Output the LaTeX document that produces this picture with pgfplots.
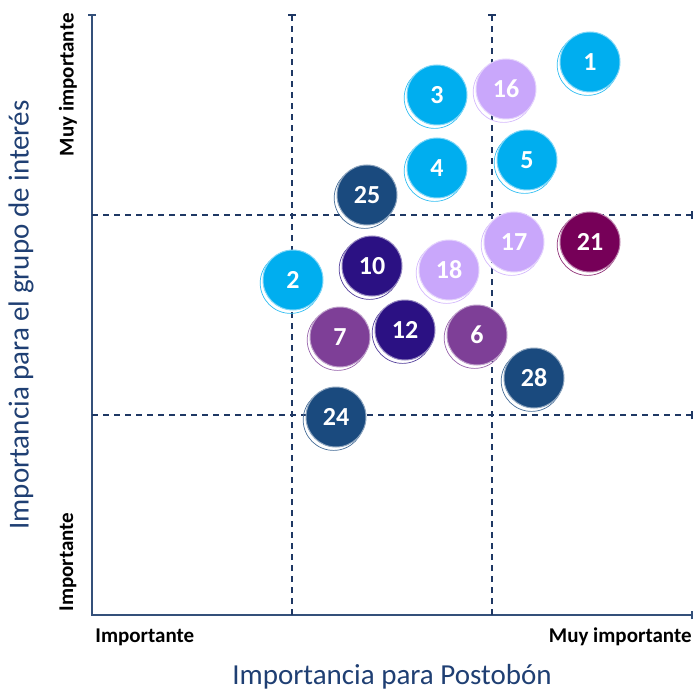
\documentclass[border=0pt]{standalone}
\usepackage{fontspec}
\setmainfont{Carlito}
\usepackage{pgfplots}
\pgfplotsset{compat=1.18}
\definecolor{lblue}{HTML}{00AEEF}
\definecolor{lav}{HTML}{C9A7FB}
\definecolor{dblue}{HTML}{1A4A7E}
\definecolor{indig}{HTML}{2B1183}
\definecolor{purp}{HTML}{7E3F97}
\definecolor{magen}{HTML}{760058}
\definecolor{dashcol}{HTML}{1F3864}
\definecolor{axcol}{HTML}{34507A}
\definecolor{titlecol}{HTML}{1F3F73}
\newcommand{\bub}[2]{%
\addplot[only marks, mark=o, mark size=15.2pt, draw=#1!80!white, line width=0.35pt, point meta=explicit symbolic,
  mark options={xshift=-1.2pt,yshift=-1.5pt}] coordinates {#2};
\addplot[only marks, mark=*, mark size=15pt, fill=#1, draw=#1!50!white, line width=0.5pt,
  point meta=explicit symbolic, nodes near coords, nodes near coords align=center,
  every node near coord/.style={font=\bfseries\fontsize{13}{13}\selectfont, text=white, anchor=center}] coordinates {#2};
}
\tikzset{dl/.style={dashcol, line width=0.7pt, dash pattern=on 3pt off 2.5pt}, dt/.style={dashcol, line width=0.7pt}}
\begin{document}
\begin{tikzpicture}
\useasboundingbox (-46pt,-38pt) rectangle (301.5pt,307.5pt);
\begin{axis}[
  scale only axis, width=300pt, height=300pt,
  xmin=0, xmax=3, ymin=0, ymax=3,
  hide axis, clip=false,
]
% axis lines
\draw[axcol, line width=0.75pt] (axis cs:0,3) -- (axis cs:0,0) -- (axis cs:3,0);
\draw[axcol, line width=0.75pt] ([xshift=-2pt]axis cs:0,3) -- ([xshift=2pt]axis cs:0,3);
\draw[axcol, line width=0.75pt] ([yshift=-2pt]axis cs:3,0) -- ([yshift=2pt]axis cs:3,0);
% dashed quadrant lines
\draw[dl] (axis cs:1,0) -- (axis cs:1,3);
\draw[dl] (axis cs:2,0) -- (axis cs:2,3);
\draw[dt] ([xshift=-2pt]axis cs:1,3) -- ([xshift=2pt]axis cs:1,3);
\draw[dt] ([xshift=-2pt]axis cs:2,3) -- ([xshift=2pt]axis cs:2,3);
\draw[dl] (axis cs:0,1) -- (axis cs:3,1);
\draw[dl] (axis cs:0,2) -- (axis cs:3,2);
\draw[dt] ([yshift=-2pt]axis cs:3,1) -- ([yshift=2pt]axis cs:3,1);
\draw[dt] ([yshift=-2pt]axis cs:3,2) -- ([yshift=2pt]axis cs:3,2);
% bubbles
\bub{lblue}{(2.49,2.765) [1] (1.725,2.60) [3] (1.725,2.235) [4] (2.175,2.275) [5] (1.005,1.675) [2]}
\bub{lav}{(2.07,2.63) [16] (2.11,1.865) [17] (1.785,1.725) [18]}
\bub{dblue}{(1.375,2.10) [25] (2.21,1.185) [28] (1.22,0.99) [24]}
\bub{indig}{(1.40,1.745) [10] (1.565,1.425) [12]}
\bub{purp}{(1.24,1.39) [7] (1.925,1.40) [6]}
\bub{magen}{(2.49,1.865) [21]}
% labels
\node[inner sep=0pt, anchor=west, font=\bfseries\fontsize{10.5}{12}\selectfont] at ([xshift=1.5pt,yshift=-11pt]axis cs:0,0) {Importante};
\node[inner sep=0pt, anchor=east, font=\bfseries\fontsize{10.5}{12}\selectfont] at ([yshift=-11pt]axis cs:3,0) {Muy importante};
\node[inner sep=0pt, rotate=90, anchor=east, font=\bfseries\fontsize{10.5}{12}\selectfont] at ([xshift=-12pt,yshift=1pt]axis cs:0,3) {Muy importante};
\node[inner sep=0pt, rotate=90, anchor=west, font=\bfseries\fontsize{10.5}{12}\selectfont] at ([xshift=-12pt,yshift=1.5pt]axis cs:0,0) {Importante};
\node[text=titlecol, font=\fontsize{14.5}{16}\selectfont] at ([yshift=-31pt]axis cs:1.5,0) {Importancia para Postobón};
\node[rotate=90, text=titlecol, font=\fontsize{14.5}{16}\selectfont] at ([xshift=-35.5pt]axis cs:0,1.5) {Importancia para el grupo de interés};
\end{axis}
\end{tikzpicture}
\end{document}
